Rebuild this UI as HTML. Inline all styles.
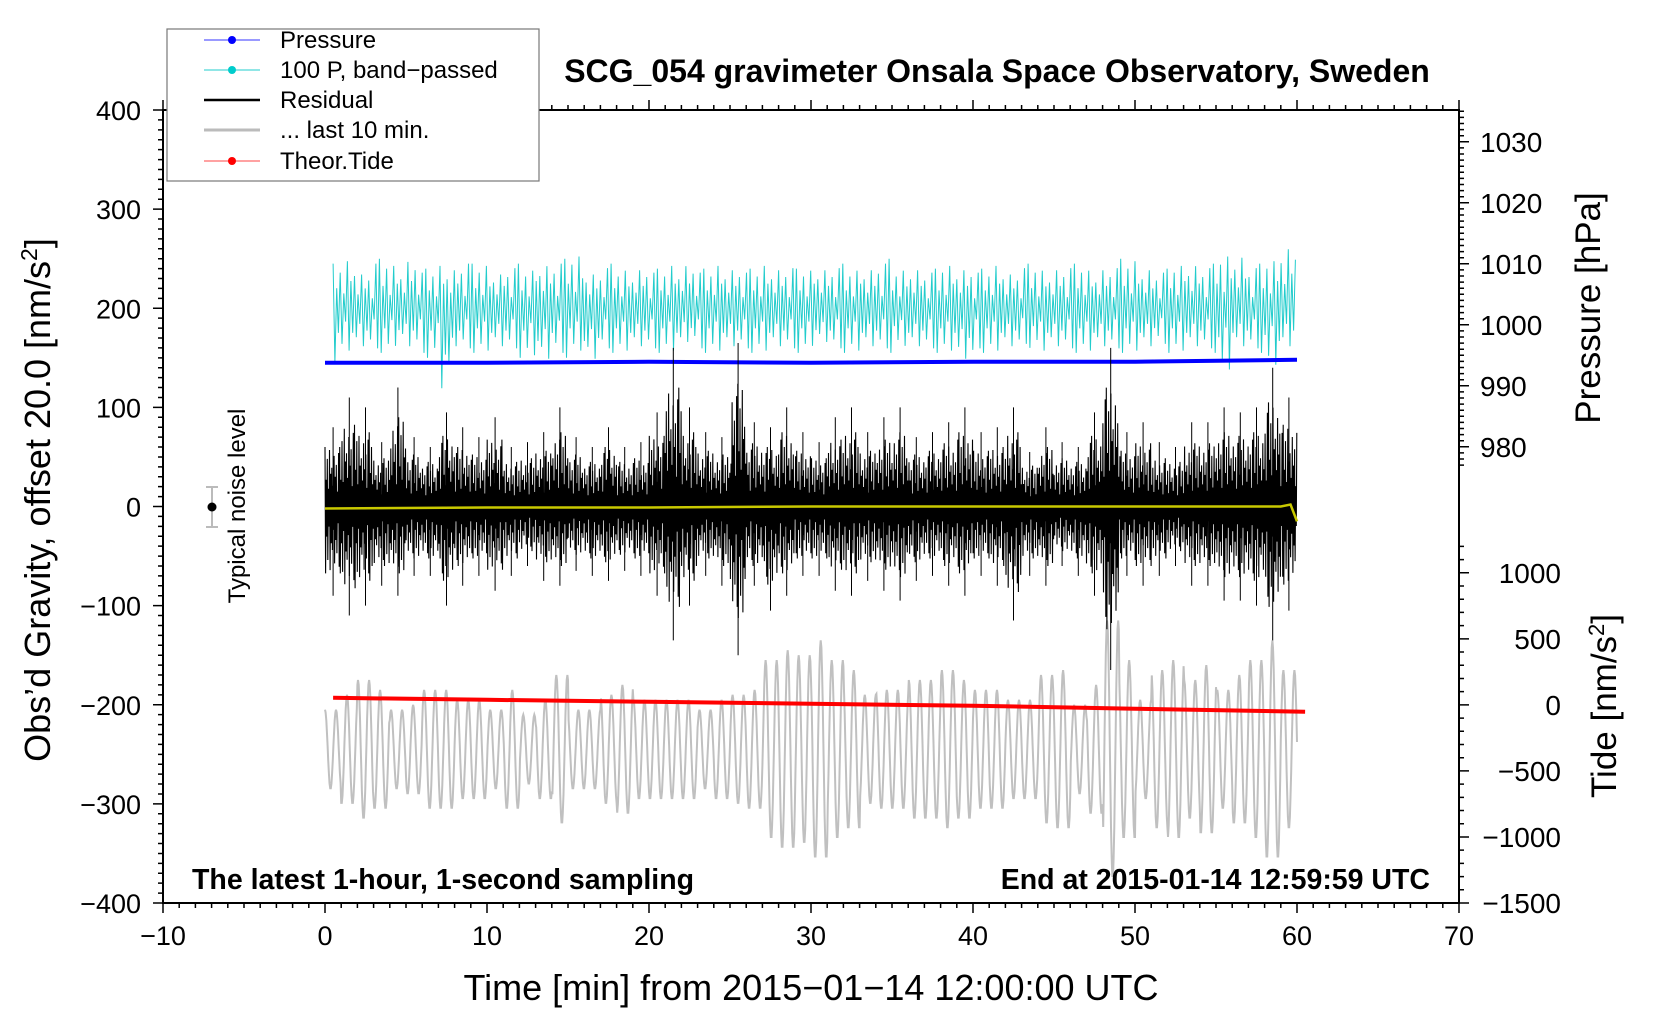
<!DOCTYPE html>
<html><head><meta charset="utf-8"><style>
html,body{margin:0;padding:0;background:#fff}
svg{display:block;font-family:"Liberation Sans",sans-serif}
</style></head><body>
<svg id="chart" width="1660" height="1020" viewBox="0 0 1660 1020" xmlns="http://www.w3.org/2000/svg">
<rect width="1660" height="1020" fill="#fff"/>
<g id="plot"></g>
<g id="axes"></g>
<text x="997" y="82" text-anchor="middle" font-size="32" font-weight="bold">SCG_054 gravimeter Onsala Space Observatory, Sweden</text>
<text x="192" y="889" font-size="28.5" font-weight="bold">The latest 1-hour, 1-second sampling</text>
<text x="1430" y="889" text-anchor="end" font-size="28.5" font-weight="bold">End at 2015-01-14 12:59:59 UTC</text>
<text x="811" y="1000" text-anchor="middle" font-size="36">Time [min] from 2015−01−14 12:00:00 UTC</text>
<text transform="translate(50,500) rotate(-90)" text-anchor="middle" font-size="36">Obs’d Gravity, offset 20.0 [nm/s<tspan dy="-13" font-size="23">2</tspan><tspan dy="13">]</tspan></text>
<text transform="translate(1600,308) rotate(-90)" text-anchor="middle" font-size="35">Pressure [hPa]</text>
<text transform="translate(1616,706) rotate(-90)" text-anchor="middle" font-size="35">Tide [nm/s<tspan dy="-12" font-size="22">2</tspan><tspan dy="12">]</tspan></text>
<g>
<line x1="212" y1="487" x2="212" y2="527" stroke="#bbb" stroke-width="2"/>
<line x1="206" y1="487" x2="218" y2="487" stroke="#bbb" stroke-width="2"/>
<line x1="206" y1="527" x2="218" y2="527" stroke="#bbb" stroke-width="2"/>
<circle cx="212" cy="507" r="4.5" fill="#000"/>
<text transform="translate(245,506) rotate(-90)" text-anchor="middle" font-size="24">Typical noise level</text>
</g>
<g>
<rect x="167" y="29" width="372" height="152" fill="#fff" stroke="#777" stroke-width="1.2"/>
<g><line x1="204" y1="40" x2="260" y2="40" stroke="#33f" stroke-width="1"/><circle cx="232" cy="40" r="4" fill="#00f"/><text x="280" y="48" font-size="24">Pressure</text></g>
<g><line x1="204" y1="70" x2="260" y2="70" stroke="#2cc" stroke-width="1"/><circle cx="232" cy="70" r="4" fill="#0cc"/><text x="280" y="78" font-size="24">100 P, band−passed</text></g>
<g><line x1="204" y1="100" x2="260" y2="100" stroke="#000" stroke-width="2.5"/><text x="280" y="108" font-size="24">Residual</text></g>
<g><line x1="204" y1="130" x2="260" y2="130" stroke="#bbb" stroke-width="3"/><text x="280" y="138" font-size="24">... last 10 min.</text></g>
<g><line x1="204" y1="161" x2="260" y2="161" stroke="#f44" stroke-width="1"/><circle cx="232" cy="161" r="4" fill="#f00"/><text x="280" y="169" font-size="24">Theor.Tide</text></g>
</g>
</svg>
<script>
// ---- data ----
const xTicks = [-10,0,10,20,30,40,50,60,70];
const yTicks = [400,300,200,100,0,-100,-200,-300,-400];
const pressureTicks = [1030,1020,1010,1000,990,980];
const tideTicks = [1000,500,0,-500,-1000,-1500];
// residual peak envelope per minute (nm/s^2)
const residualUpper = [80,110,100,65,120,70,60,95,80,70,90,60,65,75,100,70,60,80,60,65,95,160,100,75,70,165,85,80,100,75,65,90,100,75,90,100,70,75,85,100,75,80,100,55,80,65,60,95,160,75,85,65,60,85,85,100,95,100,140,110];
const residualLower = [-90,-110,-100,-80,-90,-70,-70,-100,-80,-70,-85,-70,-60,-75,-80,-65,-70,-75,-65,-70,-90,-135,-100,-70,-80,-150,-80,-105,-90,-70,-70,-85,-90,-75,-85,-95,-75,-70,-80,-90,-70,-80,-115,-70,-80,-60,-70,-90,-165,-70,-80,-70,-60,-80,-80,-95,-95,-100,-135,-105];
// band-passed pressure envelope per minute (offset 200)
const bandUpper = [45,50,40,50,45,55,40,45,50,45,40,45,40,50,50,55,40,45,40,45,40,45,50,40,45,45,40,45,45,40,45,45,40,45,50,40,45,40,45,45,40,45,40,45,40,45,45,40,45,50,45,40,45,50,45,55,60,45,50,70];
const bandLower = [-55,-45,-45,-45,-40,-45,-50,-85,-45,-45,-45,-45,-50,-60,-50,-45,-60,-45,-45,-45,-45,-45,-40,-45,-45,-45,-45,-45,-45,-45,-40,-45,-45,-45,-45,-40,-45,-45,-45,-60,-45,-45,-45,-40,-45,-45,-45,-45,-45,-45,-45,-40,-45,-45,-45,-65,-45,-45,-60,-45];
const bandCenter = 200;
// pressure (gravity-scale position) every 10 min
const pressureTime = [0,10,20,30,40,50,60];
const pressureVals = [145,145,146,145,146,146,148];
// yellow smoothed residual every 10 min
const smoothTime = [0,10,20,30,40,50,59,59.6,60];
const smoothVals = [-2,-1,-1,0,0,0,0,2,-15];
// theoretical tide (plotted in gravity units)
const tideTime = [0.5,10,20,30,40,50,60.5];
const tideVals = [-193,-195,-197,-199,-201,-204,-207];
// last 10 min replay: amplitude envelope per minute, center -245
const lastAmp = [40,55,70,60,40,45,60,60,50,50,40,60,35,50,75,40,40,55,65,50,50,50,50,40,50,55,60,90,100,95,110,90,80,55,60,60,70,70,80,70,60,60,50,50,75,80,45,65,130,90,50,80,90,70,85,60,75,90,110,80];
const lastCenter = -245;

// ---- scales ----
const X0=163,X1=1459,Y0=110,Y1=903;
const sx = t => X0 + (t+10)*(X1-X0)/80;
const sy = v => Y0 + (400-v)*(Y1-Y0)/800;
const sp = p => 141.8 + (1030-p)*6.1;
const st = v => 572.8 + (1000-v)*0.13208;
const NS='http://www.w3.org/2000/svg';
function mk(tag,attrs,parent){const e=document.createElementNS(NS,tag);for(const k in attrs)e.setAttribute(k,attrs[k]);parent.appendChild(e);return e;}
const plot=document.getElementById('plot'), axes=document.getElementById('axes');
const tex=[1,0.45,0.8,0.3,0.95,0.55,0.65,0.35,0.85,0.5,0.7,0.25,0.9];
function envAt(arr,t){const i=Math.min(arr.length-1,Math.max(0,Math.floor(t)));return arr[i];}

// cyan band-passed
let d='';let n=0;
for(let t=0.5;t<=60;t+=0.11){const up=(n%2===0);const a=up?envAt(bandUpper,t):envAt(bandLower,t);const v=bandCenter+a*tex[(n>>1)%tex.length];d+=(n?'L':'M')+sx(t).toFixed(1)+','+sy(v).toFixed(1);n++;}
const cy=mk('path',{d:d,fill:'none',stroke:'#22cccc','stroke-width':1},plot);



// blue pressure
d='';pressureTime.forEach((t,i)=>{d+=(i?'L':'M')+sx(t)+','+sy(pressureVals[i]);});
const bl=mk('path',{d:d,fill:'none',stroke:'#0000ff','stroke-width':4},plot);



// gray last 10 min
d='';n=0;
for(let t=0;t<=60;t+=0.04){const a=envAt(lastAmp,t);const v=lastCenter+a*Math.cos(t*2*Math.PI/0.68);d+=(n?'L':'M')+sx(t).toFixed(1)+','+sy(v).toFixed(1);n++;}
const gr=mk('path',{d:d,fill:'none',stroke:'#c0c0c0','stroke-width':2},plot);



// black residual
d='';n=0;
for(let t=0;t<=60;t+=0.035){const up=(n%2===0);const a=up?envAt(residualUpper,t):envAt(residualLower,t);const v=a*tex[(n>>1)%tex.length]*0.75;d+=(n?'L':'M')+sx(t).toFixed(1)+','+sy(v).toFixed(1);n++;}
const rs=mk('path',{d:d,fill:'none',stroke:'#000','stroke-width':1.1},plot);


// residual peaks
d='';
residualUpper.forEach((u,i)=>{const x=sx(i+0.5);d+='M'+x+','+sy(u)+'L'+x+','+sy(residualLower[i]);});
const pk=mk('path',{d:d,fill:'none',stroke:'#000','stroke-width':1},plot);



// yellow smoothed
d='';smoothTime.forEach((t,i)=>{d+=(i?'L':'M')+sx(t)+','+sy(smoothVals[i]);});
const yl=mk('path',{d:d,fill:'none',stroke:'#c8c800','stroke-width':2.5},plot);



// red tide
d='';tideTime.forEach((t,i)=>{d+=(i?'L':'M')+sx(t)+','+sy(tideVals[i]);});
const rd=mk('path',{d:d,fill:'none',stroke:'#ff0000','stroke-width':4},plot);



// ---- axes ----
const fr=mk('rect',{x:X0,y:Y0,width:X1-X0,height:Y1-Y0,fill:'none',stroke:'#000','stroke-width':2},axes);


d='';
for(let t=-10;t<=70;t++){const x=sx(t);const L=(t%10===0)?10:5;d+=`M${x},${Y0}L${x},${Y0-L}M${x},${Y1}L${x},${Y1+L}`;}
for(let v=-400;v<=400;v+=10){const y=sy(v);const L=(v%100===0)?10:5;d+=`M${X0},${y}L${X0-L},${y}`;}
for(let p=977;p<=1035;p++){const y=sp(p);const L=(p%10===0)?10:5;d+=`M${X1},${y}L${X1+L},${y}`;}
for(let v=-1500;v<=1200;v+=100){const y=st(v);if(y<Y0||y>Y1)continue;const L=(v%500===0)?10:5;d+=`M${X1},${y}L${X1+L},${y}`;}
mk('path',{d:d,stroke:'#000','stroke-width':1.5,fill:'none'},axes);
xTicks.forEach(t=>{const e=mk('text',{x:sx(t),y:945,'text-anchor':'middle','font-size':27},axes);e.textContent=String(t).replace('-','−');

});
yTicks.forEach(v=>{const e=mk('text',{x:141,y:sy(v)+10,'text-anchor':'end','font-size':27},axes);e.textContent=String(v).replace('-','−');

});
pressureTicks.forEach(p=>{const e=mk('text',{x:1480,y:sp(p)+10,'font-size':28},axes);e.textContent=p;

});
tideTicks.forEach(v=>{const e=mk('text',{x:1561,y:st(v)+10,'text-anchor':'end','font-size':28},axes);e.textContent=String(v).replace('-','−');

});
</script>
</body></html>
